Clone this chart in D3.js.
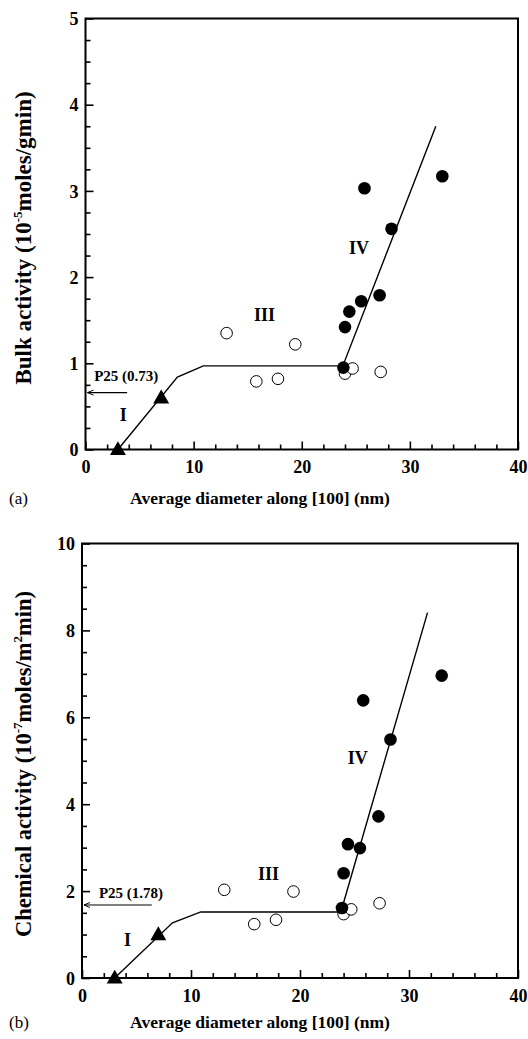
<!DOCTYPE html>
<html><head><meta charset="utf-8">
<script src="https://cdn.jsdelivr.net/npm/d3@7"></script>
<style>
body{margin:0;background:#fff;}
svg{display:block;}
text{font-family:"Liberation Serif","Times New Roman",serif;}
</style></head>
<body>
<svg id="chart" width="528" height="1039"></svg>
<script>
// ---- data ----
const xTicks = [0, 10, 20, 30, 40];
const xMinor = d3.range(0, 40.01, 2);
const yTicksA = [0, 1, 2, 3, 4, 5];
const yMinorA = d3.range(0, 5.01, 0.25);
const yTicksB = [0, 2, 4, 6, 8, 10];
const yMinorB = d3.range(0, 10.01, 0.5);

const xTri = [3, 7];
const bulkTri = [0, 0.6];
const chemTri = [0, 1.0];

const xOpen = [13.05, 15.8, 17.8, 19.4, 24.0, 24.7, 27.3];
const bulkOpen = [1.35, 0.79, 0.82, 1.22, 0.88, 0.94, 0.90];
const chemOpen = [2.03, 1.24, 1.34, 1.99, 1.47, 1.58, 1.72];

const xFilled = [23.85, 24.0, 24.4, 25.5, 27.2, 28.3, 25.8, 33.0];
const bulkFilled = [0.95, 1.42, 1.60, 1.72, 1.79, 2.56, 3.03, 3.17];
const chemFilled = [1.61, 2.41, 3.08, 2.99, 3.72, 5.49, 6.39, 6.96];

const bulkLineX = [3, 8.5, 10.9, 23.8, 32.4];
const bulkLineY = [0, 0.84, 0.97, 0.97, 3.75];
const chemLineX = [3, 8.3, 10.9, 23.75, 31.7];
const chemLineY = [0, 1.27, 1.52, 1.52, 8.41];

const xTitle = "Average diameter along [100] (nm)";

const svg = d3.select("#chart");

function panel(cfg) {
  const x = d3.scaleLinear().domain([0, 40]).range([cfg.left, cfg.right]);
  const y = d3.scaleLinear().domain([0, cfg.ymax]).range([cfg.bottom, cfg.top]);
  const g = svg.append("g");

  // frame
  g.append("rect").attr("x", cfg.left).attr("y", cfg.top)
    .attr("width", cfg.right - cfg.left).attr("height", cfg.bottom - cfg.top)
    .attr("fill", "none").attr("stroke", "#000").attr("stroke-width", 2);

  // x axis
  const xa = g.append("g").attr("transform", `translate(0,${cfg.bottom})`)
    .call(d3.axisBottom(x).tickValues(xTicks).tickSize(-8).tickPadding(11).tickFormat(d3.format("d")));
  const xm = g.append("g").attr("transform", `translate(0,${cfg.bottom})`)
    .call(d3.axisBottom(x).tickValues(xMinor.filter(v => v % 10 !== 0)).tickSize(-5).tickFormat(""));
  // y axis
  const ya = g.append("g").attr("transform", `translate(${cfg.left},0)`)
    .call(d3.axisLeft(y).tickValues(cfg.yTicks).tickSize(-8).tickPadding(7).tickFormat(d3.format("d")));
  const ym = g.append("g").attr("transform", `translate(${cfg.left},0)`)
    .call(d3.axisLeft(y).tickValues(cfg.yMinor.filter(v => cfg.yTicks.indexOf(v) < 0)).tickSize(-5).tickFormat(""));
  [xa, xm, ya, ym].forEach(a => {
    a.select(".domain").remove();
    a.selectAll("line").attr("stroke", "#000").attr("stroke-width", 1.6);
    a.selectAll("text").attr("font-weight", "bold").attr("font-size", 18).attr("fill", "#000");
  });
  ya.selectAll("text").attr("dy", "0.34em");

  // fit line
  const lineData = cfg.lineX.map((v, i) => [v, cfg.lineY[i]]);
  g.append("path").datum(lineData)
    .attr("d", d3.line().x(d => x(d[0])).y(d => y(d[1])))
    .attr("fill", "none").attr("stroke", "#000").attr("stroke-width", 1.4);

  // triangles
  const tri = d3.symbol().type(d3.symbolTriangle).size(110);
  g.selectAll(".tri").data(xTri.map((v, i) => [v, cfg.tri[i]])).enter()
    .append("path").attr("d", tri)
    .attr("transform", d => `translate(${x(d[0])},${y(d[1]) + 1})`)
    .attr("fill", "#000");

  // open circles
  g.selectAll(".oc").data(xOpen.map((v, i) => [v, cfg.open[i]])).enter()
    .append("circle").attr("cx", d => x(d[0])).attr("cy", d => y(d[1])).attr("r", 5.8)
    .attr("fill", "#fff").attr("stroke", "#000").attr("stroke-width", 1);

  // filled circles
  g.selectAll(".fc").data(xFilled.map((v, i) => [v, cfg.filled[i]])).enter()
    .append("circle").attr("cx", d => x(d[0])).attr("cy", d => y(d[1])).attr("r", 6.3)
    .attr("fill", "#000");

  // P25 arrow
  const ay = y(cfg.p25y);
  g.append("line").attr("x1", x(0) + 2).attr("x2", x(cfg.p25len)).attr("y1", ay).attr("y2", ay)
    .attr("stroke", "#000").attr("stroke-width", 1.2);
  g.append("path").attr("d", `M${x(0) + 8},${ay - 2.5} L${x(0) + 2},${ay} L${x(0) + 8},${ay + 2.5}`)
    .attr("fill", "none").attr("stroke", "#000").attr("stroke-width", 1);
  g.append("text").attr("x", x(cfg.p25tx)).attr("y", y(cfg.p25ty))
    .attr("font-size", 15).attr("font-weight", "bold").text(cfg.p25label);

  // region labels
  cfg.regions.forEach(r => {
    g.append("text").attr("x", x(r[1])).attr("y", y(r[2])).attr("dy", "0.35em")
      .attr("text-anchor", "middle").attr("font-size", 18).attr("font-weight", "bold").text(r[0]);
  });

  // x title
  g.append("text").attr("x", 260).attr("y", cfg.bottom + cfg.titleOff)
    .attr("text-anchor", "middle").attr("font-size", 17.5).attr("font-weight", "bold").text(xTitle);
  // panel letter
  g.append("text").attr("x", 9).attr("y", cfg.bottom + cfg.titleOff)
    .attr("font-size", 17).text(cfg.letter);

  // y title
  const yt = g.append("text")
    .attr("transform", `translate(${cfg.ytx},${cfg.yty}) rotate(-90)`)
    .attr("text-anchor", "middle").attr("font-size", cfg.ytsize).attr("font-weight", "bold");
  cfg.ytitle.forEach(p => {
    const t = yt.append("tspan").text(p.t);
    if (p.sup) t.attr("font-size", 13).attr("dy", -9);
    else if (p.after) t.attr("dy", 9);
  });
}

panel({
  left: 85.5, right: 518, top: 18.5, bottom: 449.5, ymax: 5,
  yTicks: yTicksA, yMinor: yMinorA,
  tri: bulkTri, open: bulkOpen, filled: bulkFilled,
  lineX: bulkLineX, lineY: bulkLineY,
  p25y: 0.66, p25len: 3.85, p25tx: 0.8, p25ty: 0.8, p25label: "P25 (0.73)",
  regions: [["I", 3.5, 0.4], ["III", 16.55, 1.56], ["IV", 25.3, 2.34]],
  letter: "(a)", ytx: 31, yty: 238, titleOff: 54.5, ytsize: 23,
  ytitle: [{t: "Bulk activity (10"}, {t: "-5", sup: true}, {t: "moles/gmin)", after: true}]
});

panel({
  left: 82, right: 518, top: 543.5, bottom: 978, ymax: 10,
  yTicks: yTicksB, yMinor: yMinorB,
  tri: chemTri, open: chemOpen, filled: chemFilled,
  lineX: chemLineX, lineY: chemLineY,
  p25y: 1.68, p25len: 6.4, p25tx: 1.55, p25ty: 1.83, p25label: "P25 (1.78)",
  regions: [["I", 4.18, 0.88], ["III", 17.1, 2.39], ["IV", 25.3, 5.06]],
  letter: "(b)", ytx: 31, yty: 764, titleOff: 50, ytsize: 22.5,
  ytitle: [{t: "Chemical activity (10"}, {t: "-7", sup: true}, {t: "moles/m", after: true}, {t: "2", sup: true}, {t: "min)", after: true}]
});
</script>
</body></html>
